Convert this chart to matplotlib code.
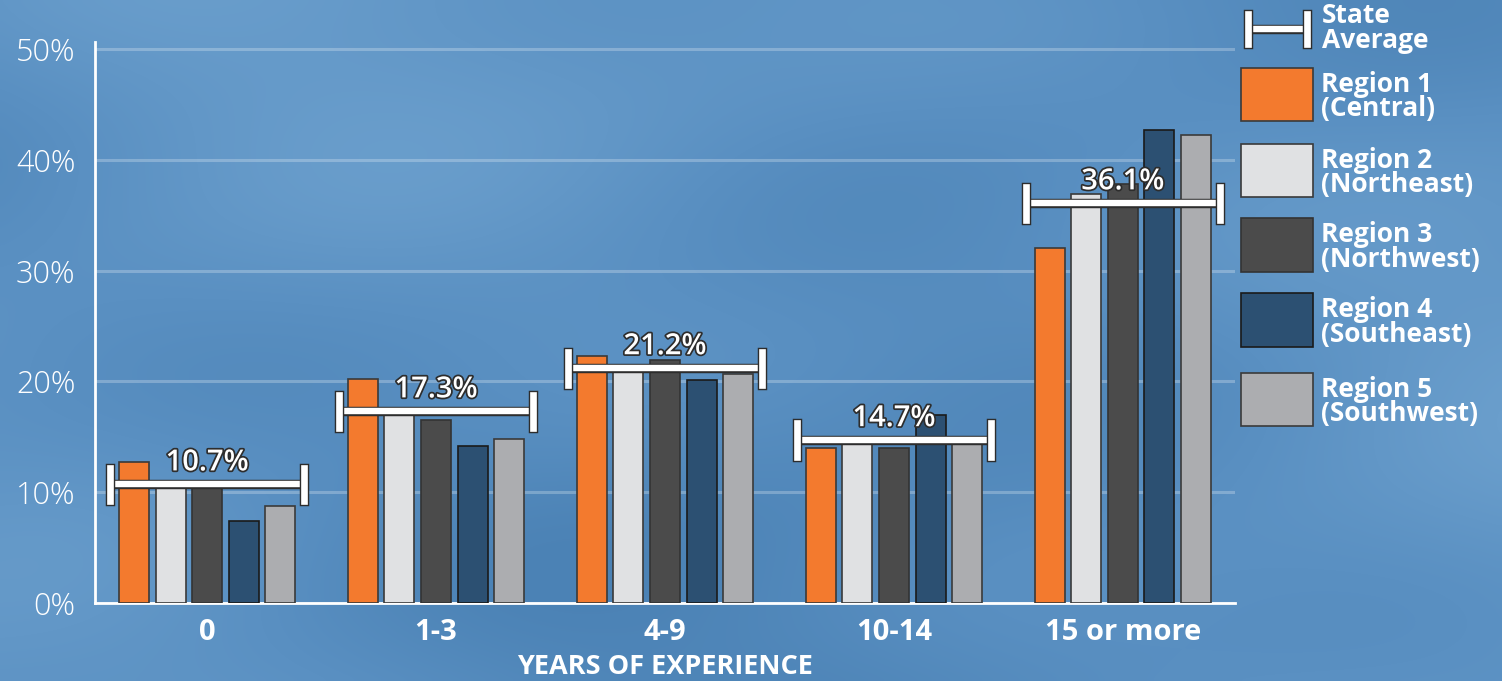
#! /usr/bin/env python3
import numpy as np
import matplotlib.pyplot as plt
from matplotlib.patches import Rectangle
from matplotlib.lines import Line2D
from matplotlib.colors import LinearSegmentedColormap
import matplotlib.patheffects as pe

plt.rcParams['font.family'] = ['Open Sans', 'DejaVu Sans']

# datos
categorias = ['0', '1-3', '4-9', '10-14', '15 or more']
region1 = [12.7, 20.2, 22.3, 14.0, 32.1]
region2 = [11.0, 17.2, 21.2, 15.0, 36.9]
region3 = [10.8, 16.5, 21.9, 14.0, 37.8]
region4 = [7.4, 14.2, 20.1, 17.0, 42.7]
region5 = [8.7, 14.8, 20.7, 15.0, 42.3]
promedio_estado = [10.7, 17.3, 21.2, 14.7, 36.1]

regiones = ['Region 1\n(Central)', 'Region 2\n(Northeast)', 'Region 3\n(Northwest)',
            'Region 4\n(Southeast)', 'Region 5\n(Southwest)']
colores = ['#F37A2E', '#E0E1E3', '#4B4B4B', '#2C5072', '#ACADB0']
bordes = ['#3a3a3a', '#3a3a3a', '#333333', '#1a1a1a', '#3a3a3a']

W, H = 1502, 681
fig = plt.figure(figsize=(W / 100, H / 100), dpi=100)

# fondo azul "nublado"
bg = fig.add_axes([0, 0, 1, 1], zorder=-10)
gx, gy = np.meshgrid(np.linspace(0, 1, 300), np.linspace(0, 1, 140))
campo = (np.sin(6.0 * gx + 2.0 * gy) + 0.8 * np.cos(4.0 * gy - 3.0 * gx + 1.0)
         + 0.6 * np.sin(11.0 * gx - 7.0 * gy + 0.5) + 0.4 * np.cos(15.0 * gy + 9.0 * gx))
cmap_bg = LinearSegmentedColormap.from_list('bg', ['#4B82B5', '#5A90C2', '#6A9ECC'])
bg.imshow(campo, cmap=cmap_bg, aspect='auto', extent=[0, 1, 0, 1], interpolation='bicubic')
bg.set_axis_off()

ax = fig.add_axes([95 / W, 1 - 602.7 / H, (1235 - 95) / W, (602.7 - 41.7) / H])
ax.patch.set_alpha(0)

x = np.arange(len(categorias))
paso = 0.16
ancho = 0.131
series = [region1, region2, region3, region4, region5]
for i, vals in enumerate(series):
    ax.bar(x + (i - 2) * paso, vals, width=ancho, color=colores[i],
           edgecolor=bordes[i], linewidth=1.2, zorder=3)

# barras del promedio estatal
borde = [pe.withStroke(linewidth=6.8, foreground='#2d2d2d')]
medio = 0.425
alto = 1.5
for xi, v in zip(x, promedio_estado):
    ax.plot([xi - medio, xi + medio], [v, v], color='white', lw=4.6,
            solid_capstyle='butt', zorder=4, path_effects=borde)
    for xc in (xi - medio, xi + medio):
        ax.plot([xc, xc], [v - alto, v + alto], color='white', lw=4.8,
                solid_capstyle='projecting', zorder=4.5, path_effects=borde)
    ax.annotate('%.1f%%' % v, xy=(xi, v), xytext=(0, 10), textcoords='offset points',
                ha='center', va='baseline', fontsize=21, color='white', fontweight='semibold',
                zorder=6, path_effects=[pe.withStroke(linewidth=2.5, foreground='#2d2d2d')])

ax.set_xlim(-0.49, 4.49)
ax.set_ylim(0, 50.7)
ax.set_yticks([0, 10, 20, 30, 40, 50])
ax.set_yticklabels(['0%', '10%', '20%', '30%', '40%', '50%'], fontsize=22,
                   color='white', fontweight='light')
ax.set_xticks(x)
ax.set_xticklabels(categorias, fontsize=21, color='white', fontweight='bold')
ax.tick_params(axis='y', length=0, pad=14)
ax.tick_params(axis='x', length=0, pad=11)
ax.yaxis.grid(True, color='white', alpha=0.25, lw=2.2, zorder=0)
ax.set_axisbelow(True)
for s in ['top', 'right']:
    ax.spines[s].set_visible(False)
for s in ['left', 'bottom']:
    ax.spines[s].set_color('white')
    ax.spines[s].set_linewidth(2)

ax.set_xlabel('YEARS OF EXPERIENCE', fontsize=19.5, color='white', fontweight='bold', labelpad=5)

# leyenda armada a mano
def fx(px):
    return px / W

def fy(py):
    return 1 - py / H

fig.add_artist(Line2D([fx(1247), fx(1307)], [fy(29), fy(29)], color='white', lw=4.6,
                      solid_capstyle='butt', path_effects=borde))
for xc in (1247.5, 1306.5):
    fig.add_artist(Line2D([fx(xc), fx(xc)], [fy(14), fy(44)], color='white', lw=4.8,
                          solid_capstyle='projecting', path_effects=borde))
fig.text(fx(1322), fy(28), 'State\nAverage', fontsize=19, color='white', fontweight='bold',
         va='center', ha='left', linespacing=0.88)

filas = [(68, 121), (144, 197), (218, 272), (293, 347), (373, 426)]
for (t, b), nombre, c, e in zip(filas, regiones, colores, bordes):
    fig.add_artist(Rectangle((fx(1241), fy(b)), fx(1313) - fx(1241), fy(t) - fy(b),
                             facecolor=c, edgecolor=e, linewidth=1.2))
    fig.text(fx(1321), fy((t + b) / 2 + 2), nombre, fontsize=19, color='white',
             fontweight='bold', va='center', ha='left', linespacing=0.88)

plt.savefig('out.png', dpi=100)
